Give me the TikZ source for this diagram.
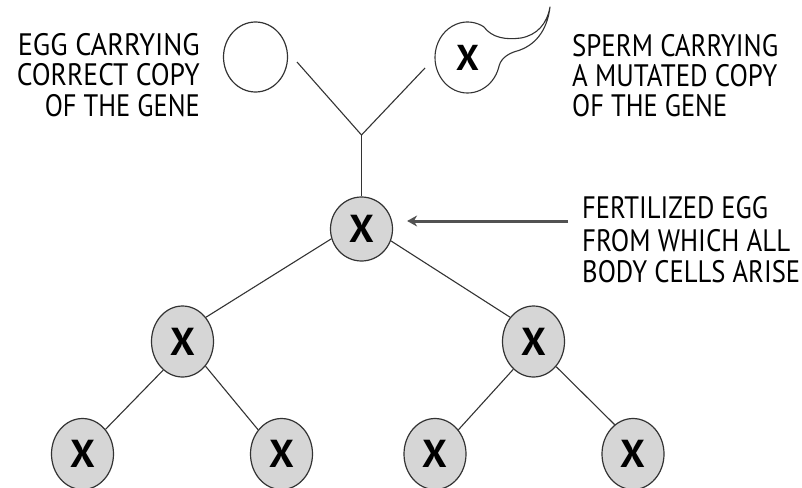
\documentclass[tikz,border=0pt]{standalone}
\usepackage{fontspec}
\setmainfont{PT Sans}
\usetikzlibrary{shapes.geometric,arrows.meta}

\definecolor{cellfill}{gray}{0.84}
\definecolor{inkline}{gray}{0.2}
\definecolor{pointergray}{gray}{0.32}

% stretch or squeeze one caption line to a given width, keeping its height
\newcommand\fitline[2]{\resizebox{#1}{\height}{#2}}

\tikzset{
  cell/.style={ellipse, draw=inkline, line width=1.2pt, fill=cellfill,
    minimum width=62pt, minimum height=71pt, inner sep=0pt,
    font=\fontsize{39}{39}\bfseries\selectfont},
  gamete/.style={ellipse, minimum width=64pt, minimum height=70pt, inner sep=0pt,
    font=\fontsize{36}{36}\bfseries\selectfont},
  link/.style={draw=inkline, line width=1.1pt},
  caption/.style={inner sep=0pt, font=\fontsize{31}{31}\selectfont, text=black},
  pointer/.style={draw=pointergray, line width=3pt, -{Stealth[length=10pt,width=11pt]}},
}

\begin{document}
\begin{tikzpicture}[x=1pt,y=-1pt]
\useasboundingbox (0,0) rectangle (802,487);

% gametes
\node[gamete, draw=inkline, line width=1.2pt] (egg) at (255.5,57) {};
\node[gamete] (sperm) at (467.5,57.5) {X};
\draw[link, line join=round]
  ([shift={(17:32.5 and 35.5)}]sperm.center)
  arc[start angle=17, end angle=300, x radius=32.5, y radius=35.5]
  .. controls (492,38) and (506,40) .. (521,38)
  .. controls (537,35) and (547,24) .. (550,7)
  .. controls (547,32) and (534,46) .. (517,51)
  .. controls (506,54) and (500,60) .. cycle;

% fusion
\coordinate (eggend) at (297,62);
\coordinate (spermend) at (425,68);
\coordinate (join) at (361.5,135);
\node[cell, minimum height=64pt] (fert) at (361.5,229) {X};
\draw[link] (eggend) -- (join);
\draw[link] (spermend) -- (join);
\draw[link] (join) -- (fert.north);

% divisions
\node[cell] (L) at (182.5,341.5) {X};
\node[cell] (R) at (533.5,341.5) {X};
\node[cell] (LL) at (82.5,454) {X};
\node[cell] (LR) at (281.5,454) {X};
\node[cell] (RL) at (435,454) {X};
\node[cell] (RR) at (633,454) {X};
\draw[link] (fert.198) -- (L.46);
\draw[link] (fert.338) -- (R.134);
\draw[link] (L.236) -- (LL.47);
\draw[link] (L.313) -- (LR.134);
\draw[link] (R.234) -- (RL.46);
\draw[link] (R.312) -- (RR.122);

% pointer to the fertilized egg
\coordinate (arrowtail) at (568,221);
\draw[pointer, shorten >=14pt] (arrowtail) -- (fert.east |- arrowtail);

% captions
\node[caption, anchor=base east] (eggA) at (200,55.5) {\fitline{182pt}{EGG CARRYING}};
\node[caption, anchor=base east] (eggB) at (200,85.5) {\fitline{183pt}{CORRECT COPY}};
\node[caption, anchor=base east] (eggC) at (200,116.5) {\fitline{155pt}{OF THE GENE}};

\node[caption, anchor=base west] (spA) at (572,56.5) {\fitline{206pt}{SPERM CARRYING}};
\node[caption, anchor=base west] (spB) at (572,86.5) {\fitline{205pt}{A MUTATED COPY}};
\node[caption, anchor=base west] (spC) at (572,116.5) {\fitline{155pt}{OF THE GENE}};

\node[caption, anchor=base west] (feA) at (582,218) {\fitline{186pt}{FERTILIZED EGG}};
\node[caption, anchor=base west] (feB) at (582,251) {\fitline{208pt}{FROM WHICH ALL}};
\node[caption, anchor=base west] (feC) at (582,282) {\fitline{218pt}{BODY CELLS ARISE}};
\end{tikzpicture}
\end{document}
